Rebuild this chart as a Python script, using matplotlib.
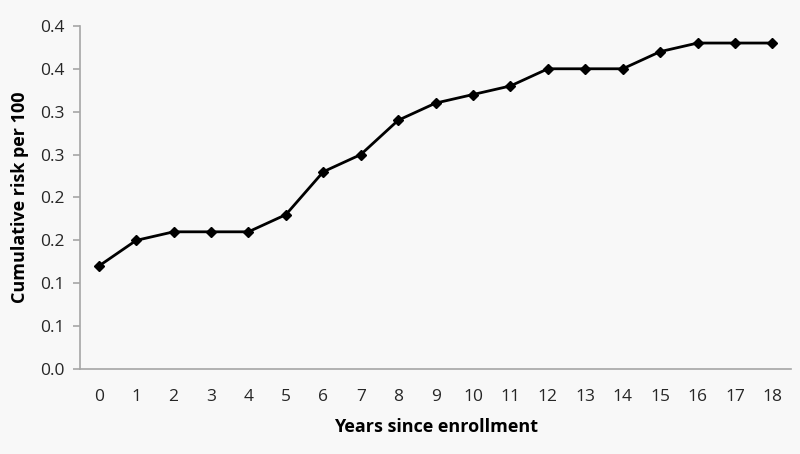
import matplotlib
matplotlib.use("Agg")
import matplotlib.pyplot as plt
import numpy as np

years = list(range(19))
cum_risk = [0.12, 0.15, 0.16, 0.16, 0.16, 0.18, 0.23, 0.25, 0.29, 0.31,
            0.32, 0.33, 0.35, 0.35, 0.35, 0.37, 0.38, 0.38, 0.38]
y_ticks = [0.0, 0.05, 0.10, 0.15, 0.20, 0.25, 0.30, 0.35, 0.40]
# labels as printed in the source chart (rounded half up to one decimal)
y_tick_labels = ["0.0", "0.1", "0.1", "0.2", "0.2", "0.3", "0.3", "0.4", "0.4"]

plt.rcParams.update({
    "font.family": ["Open Sans", "DejaVu Sans"],
    "font.size": 12.5,
})

BG = "#f8f8f8"
fig = plt.figure(figsize=(8, 4.54), dpi=100, facecolor=BG)
ax = fig.add_axes([0.1, 0.187, 0.889, 0.756], facecolor=BG)

ax.plot(years, cum_risk, color="black", lw=2, marker="D", ms=5.5,
        markerfacecolor="black", markeredgecolor="black")

ax.set_xlim(-0.5, 18.5)
ax.set_ylim(0, 0.4)
ax.set_xticks(years)
ax.set_yticks(y_ticks)
ax.set_yticklabels(y_tick_labels)

for s in ("top", "right"):
    ax.spines[s].set_visible(False)
for s in ("left", "bottom"):
    ax.spines[s].set_color("#a6a6a6")
    ax.spines[s].set_linewidth(1.2)

ax.tick_params(axis="y", length=5, color="#a6a6a6", width=1.2,
               labelcolor="#262626", pad=6)
ax.tick_params(axis="x", length=0, labelcolor="#262626", pad=14)

ax.set_xlabel("Years since enrollment", fontweight="bold", fontsize=13,
              labelpad=10)
ax.set_ylabel("Cumulative risk per 100", fontweight="bold", fontsize=13,
              labelpad=8)

fig.savefig("out.png", dpi=100, facecolor=BG)
